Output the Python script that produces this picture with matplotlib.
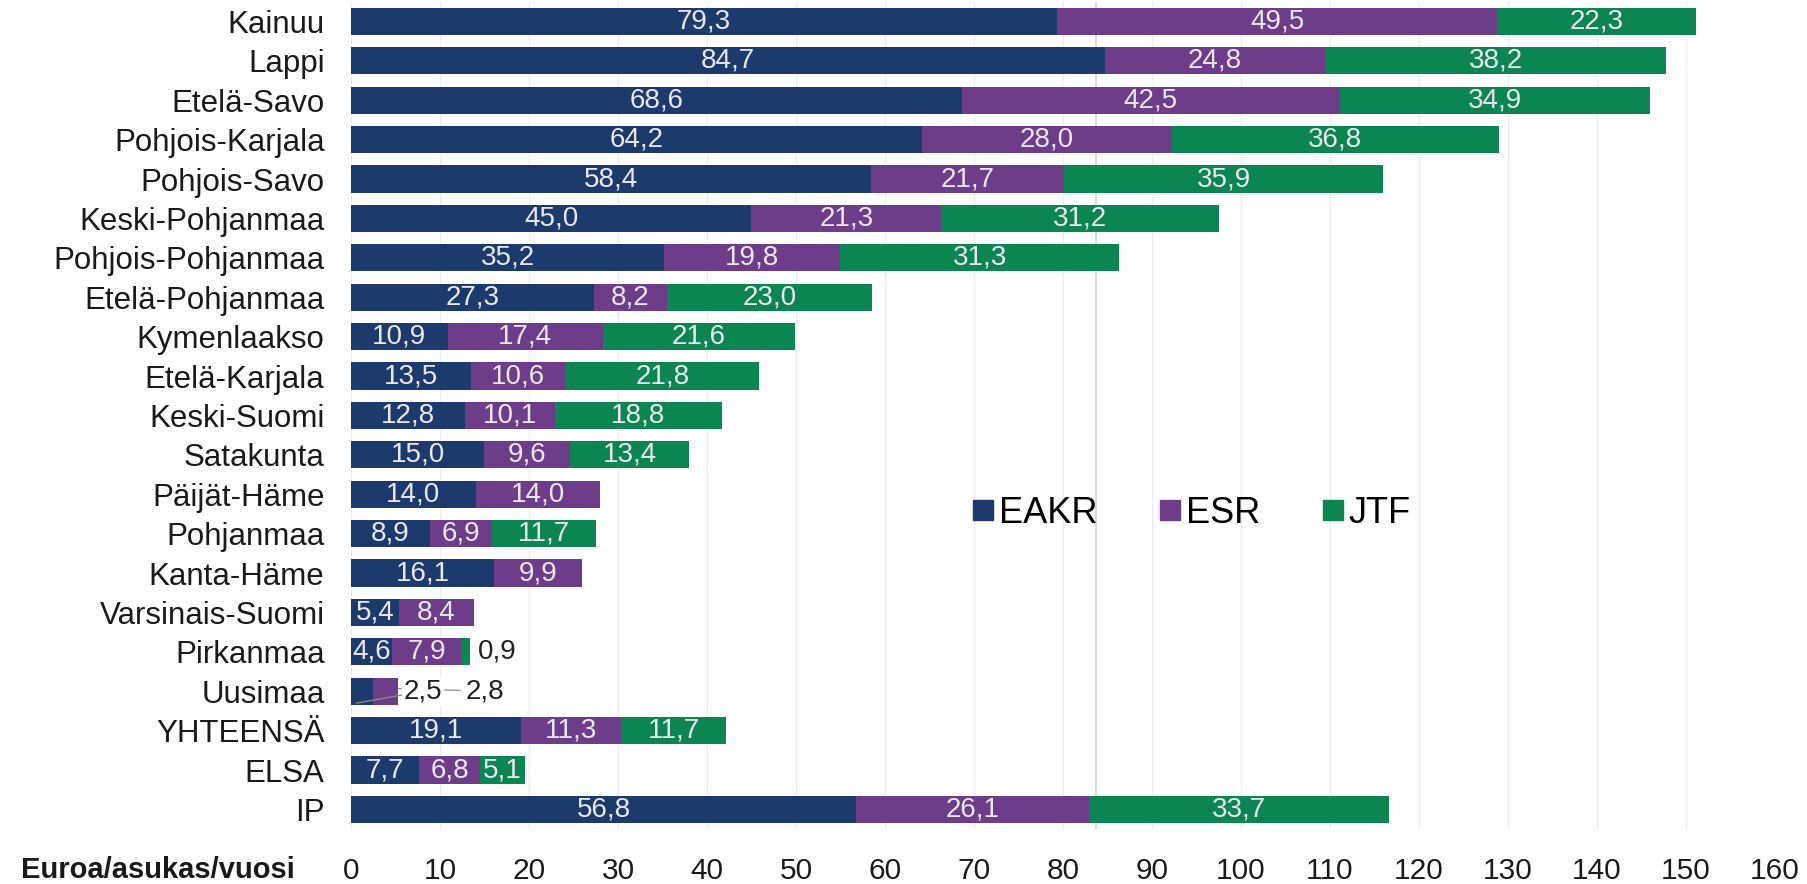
import matplotlib.pyplot as plt
from matplotlib.lines import Line2D
import numpy as np

plt.rcParams['font.family'] = ['Liberation Sans', 'DejaVu Sans']

regions = ["Kainuu", "Lappi", "Etelä-Savo", "Pohjois-Karjala", "Pohjois-Savo",
           "Keski-Pohjanmaa", "Pohjois-Pohjanmaa", "Etelä-Pohjanmaa", "Kymenlaakso",
           "Etelä-Karjala", "Keski-Suomi", "Satakunta", "Päijät-Häme", "Pohjanmaa",
           "Kanta-Häme", "Varsinais-Suomi", "Pirkanmaa", "Uusimaa", "YHTEENSÄ",
           "ELSA", "IP"]
eakr = [79.3, 84.7, 68.6, 64.2, 58.4, 45.0, 35.2, 27.3, 10.9, 13.5, 12.8, 15.0,
        14.0, 8.9, 16.1, 5.4, 4.6, 2.5, 19.1, 7.7, 56.8]
esr = [49.5, 24.8, 42.5, 28.0, 21.7, 21.3, 19.8, 8.2, 17.4, 10.6, 10.1, 9.6,
       14.0, 6.9, 9.9, 8.4, 7.9, 2.8, 11.3, 6.8, 26.1]
jtf = [22.3, 38.2, 34.9, 36.8, 35.9, 31.2, 31.3, 23.0, 21.6, 21.8, 18.8, 13.4,
       0.0, 11.7, 0.0, 0.0, 0.9, 0.0, 11.7, 5.1, 33.7]
series = ["EAKR", "ESR", "JTF"]
colors = ["#1d3a6d", "#6e3d8a", "#0b8552"]

fig = plt.figure(figsize=(18.07, 8.84), dpi=100)
ax = fig.add_axes([0.1942, 0.062, 0.7881, 0.936])

y = np.arange(len(regions))
left = np.zeros(len(regions))
for vals, col in zip([eakr, esr, jtf], colors):
    vals = np.array(vals)
    ax.barh(y, vals, left=left, height=0.69, color=col, zorder=2)
    for i, v in enumerate(vals):
        # small values get labelled outside
        if v >= 4:
            ax.text(left[i] + v / 2, y[i], f"{v:.1f}".replace(".", ","),
                    ha="center", va="center", color="#ebe7f0", fontsize=20, zorder=3)
    left += vals

# outside labels
ip = regions.index("Pirkanmaa")
ax.text(left[ip] + 0.9, y[ip], "0,9", ha="left", va="center", fontsize=20, color="#222222")
iu = regions.index("Uusimaa")
ax.annotate("2,8", xy=(4.0, y[iu] - 0.08), xytext=(15.1, y[iu]), ha="center", va="center",
            fontsize=20, color="#222222", zorder=1,
            arrowprops=dict(arrowstyle="-", color="#9a9a9a", lw=1, shrinkA=2, shrinkB=0))
ax.annotate("2,5", xy=(0.6, y[iu] + 0.3), xytext=(8.1, y[iu]), ha="center", va="center",
            fontsize=20, color="#222222", zorder=4,
            bbox=dict(boxstyle="square,pad=0.05", fc="white", ec="none"),
            arrowprops=dict(arrowstyle="-", color="#888888", lw=1, shrinkA=0, shrinkB=0))

ax.set_xlim(0, 160)
ax.set_ylim(len(regions) - 0.5, -0.5)
ax.set_xticks(np.arange(0, 161, 10))
ax.set_yticks(y)
ax.set_yticklabels(regions)
ax.tick_params(axis="x", length=0, pad=20, labelsize=21.5, labelcolor="#1a1a1a")
ax.tick_params(axis="y", length=0, pad=19, labelsize=22.5, labelcolor="#1a1a1a")
ax.grid(axis="x", color="#ececec", linewidth=1, zorder=0)
ax.set_axisbelow(True)
ax.axvline(83.7, color="#d6d6d6", linewidth=1.2, zorder=1)
for s in ax.spines.values():
    s.set_visible(False)

fig.text(0.0116, 0.016, "Euroa/asukas/vuosi", fontsize=21, fontweight="bold",
         ha="left", va="center", color="#1a1a1a")

handles = [Line2D([], [], marker="s", linestyle="none", markersize=14, color=c) for c in colors]
ax.legend(handles, series, loc="center", bbox_to_anchor=(0.589, 0.382), ncol=3,
          frameon=False, fontsize=26, handletextpad=0.05, columnspacing=1.6,
          handlelength=0.8)

fig.savefig("out.png", dpi=100)
